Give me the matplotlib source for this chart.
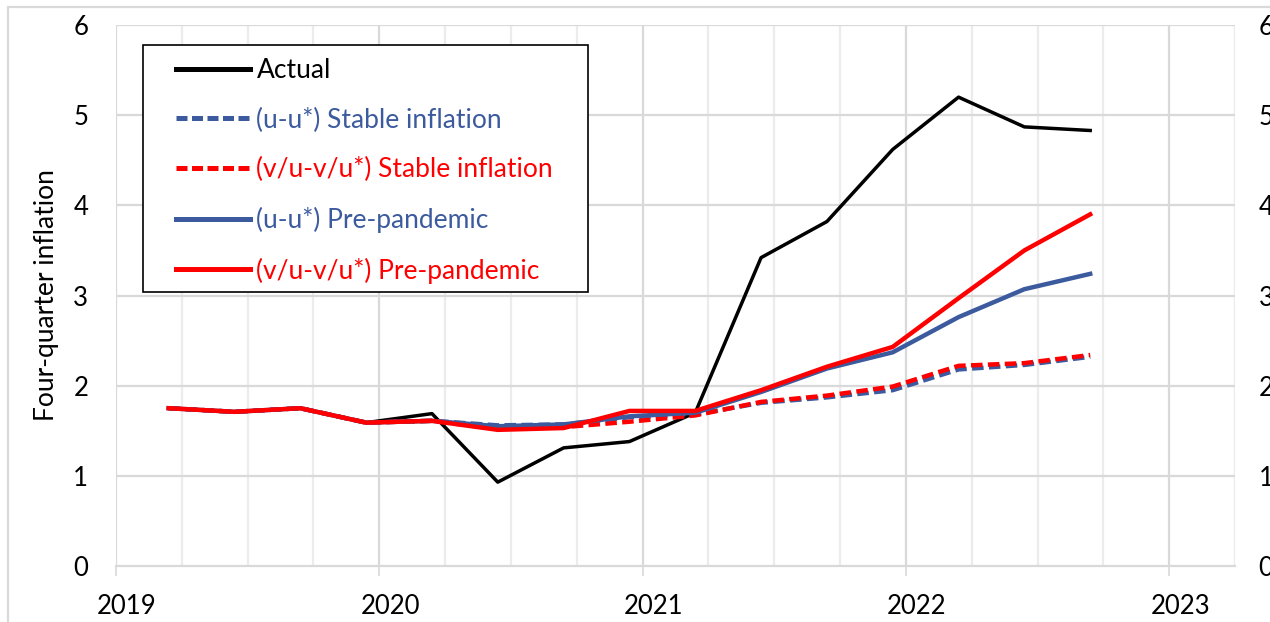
import matplotlib
matplotlib.use("Agg")
import matplotlib.pyplot as plt
import matplotlib.transforms as mtransforms
from matplotlib.lines import Line2D
from matplotlib.patches import Rectangle

plt.rcParams['font.family'] = ['Lato', 'DejaVu Sans']

# quarterly observations, as decimal years
dates = [2019.2, 2019.45, 2019.7, 2019.95, 2020.2, 2020.45, 2020.7, 2020.95,
         2021.2, 2021.45, 2021.7, 2021.95, 2022.2, 2022.45, 2022.7]

actual = [1.75, 1.71, 1.75, 1.59, 1.69, 0.93, 1.31, 1.38, 1.70, 3.42, 3.82, 4.62, 5.20, 4.87, 4.83]
u_stable = [1.75, 1.71, 1.75, 1.59, 1.61, 1.56, 1.57, 1.65, 1.68, 1.81, 1.87, 1.95, 2.18, 2.23, 2.32]
vu_stable = [1.75, 1.71, 1.75, 1.59, 1.61, 1.52, 1.54, 1.60, 1.67, 1.82, 1.89, 1.99, 2.22, 2.25, 2.34]
u_pre = [1.75, 1.71, 1.75, 1.59, 1.61, 1.55, 1.57, 1.66, 1.70, 1.93, 2.19, 2.37, 2.76, 3.07, 3.24]
vu_pre = [1.75, 1.71, 1.75, 1.59, 1.61, 1.51, 1.53, 1.72, 1.72, 1.95, 2.21, 2.43, 2.97, 3.50, 3.90]

labels = ['Actual', '(u-u*) Stable inflation', '(v/u-v/u*) Stable inflation',
          '(u-u*) Pre-pandemic', '(v/u-v/u*) Pre-pandemic']
year_ticks = [2019, 2020, 2021, 2022, 2023]
quarter_ticks = [2019 + 0.25 * i for i in range(18)]
y_ticks = [0, 1, 2, 3, 4, 5, 6]

BLUE = '#3C5B9E'
RED = '#FF0000'
GRID = '#d9d9d9'

fig = plt.figure(figsize=(12.7, 6.22), dpi=100)
ax = fig.add_axes([116 / 1270, 1 - 566 / 622, 1119 / 1270, 541 / 622])

# outer chart-area frame
fig.patches.append(Rectangle((8 / 1270, -0.1), 1.2, 1 - 7 / 622 + 0.1,
                             transform=fig.transFigure, fill=False,
                             edgecolor=GRID, linewidth=1.6))

dash = (2.6, 1.2)
ax.plot(dates, actual, color='black', lw=2.5, label=labels[0], zorder=3)
ax.plot(dates, u_stable, color=BLUE, lw=3.2, dashes=dash, label=labels[1], zorder=4)
ax.plot(dates, vu_stable, color=RED, lw=3.2, dashes=dash, label=labels[2], zorder=5)
ax.plot(dates, u_pre, color=BLUE, lw=3.2, label=labels[3], zorder=6)
ax.plot(dates, vu_pre, color=RED, lw=3.2, label=labels[4], zorder=7)

ax.set_xlim(2019, 2023.25)
ax.set_ylim(0, 6)

# grid: quarters (light), years (a bit darker), integers horizontally
for q in quarter_ticks:
    major = abs(q - round(q)) < 1e-9
    ax.axvline(q, color=GRID if major else '#ececec', lw=1.6, zorder=1)
ax.axvline(2023.25, color='#ececec', lw=1.6, zorder=1)
for yv in y_ticks[1:]:
    ax.axhline(yv, color=GRID, lw=1.6, zorder=1)

for s in ax.spines.values():
    s.set_visible(False)
ax.spines['bottom'].set_visible(True)
ax.spines['bottom'].set_color(GRID)
ax.spines['bottom'].set_linewidth(1.6)

ax.set_xticks(year_ticks)
ax.set_xticklabels([str(y) for y in year_ticks])
ax.tick_params(axis='x', length=7.5, width=1.2, color=GRID, pad=13, labelsize=18.5)
offset = mtransforms.ScaledTranslation(11 / 100, 0, fig.dpi_scale_trans)
for lab in ax.get_xticklabels():
    lab.set_transform(lab.get_transform() + offset)

ax.set_yticks(y_ticks)
ax.tick_params(axis='y', length=0, pad=20, labelsize=18.5)
ax.set_ylabel('Four-quarter inflation', fontsize=19, labelpad=10)

ax2 = ax.twinx()
ax2.set_ylim(0, 6)
ax2.set_yticks(y_ticks)
ax2.tick_params(axis='y', length=0, pad=17, labelsize=18.5)
for s in ax2.spines.values():
    s.set_visible(False)

# legend with square black frame
handles = [Line2D([], [], color='black', lw=3.6),
           Line2D([], [], color=BLUE, lw=3.6, dashes=(2.2, 0.9)),
           Line2D([], [], color=RED, lw=3.6, dashes=(2.2, 0.9)),
           Line2D([], [], color=BLUE, lw=3.6),
           Line2D([], [], color=RED, lw=3.6)]
leg = ax.legend(handles, labels, loc='upper left', bbox_to_anchor=(0.0536, 0.939),
                frameon=False, fontsize=19, borderpad=0, borderaxespad=0,
                handlelength=2.8, handletextpad=0.25, labelspacing=0.93,
                labelcolor=['black', BLUE, RED, BLUE, RED])
leg.set_zorder(10)
ax.add_patch(Rectangle((27 / 1119, (566 - 292) / 541), 445 / 1119, 247 / 541,
                       transform=ax.transAxes, facecolor='white',
                       edgecolor='black', linewidth=1.2, zorder=9))

fig.savefig('out.png', dpi=100)
